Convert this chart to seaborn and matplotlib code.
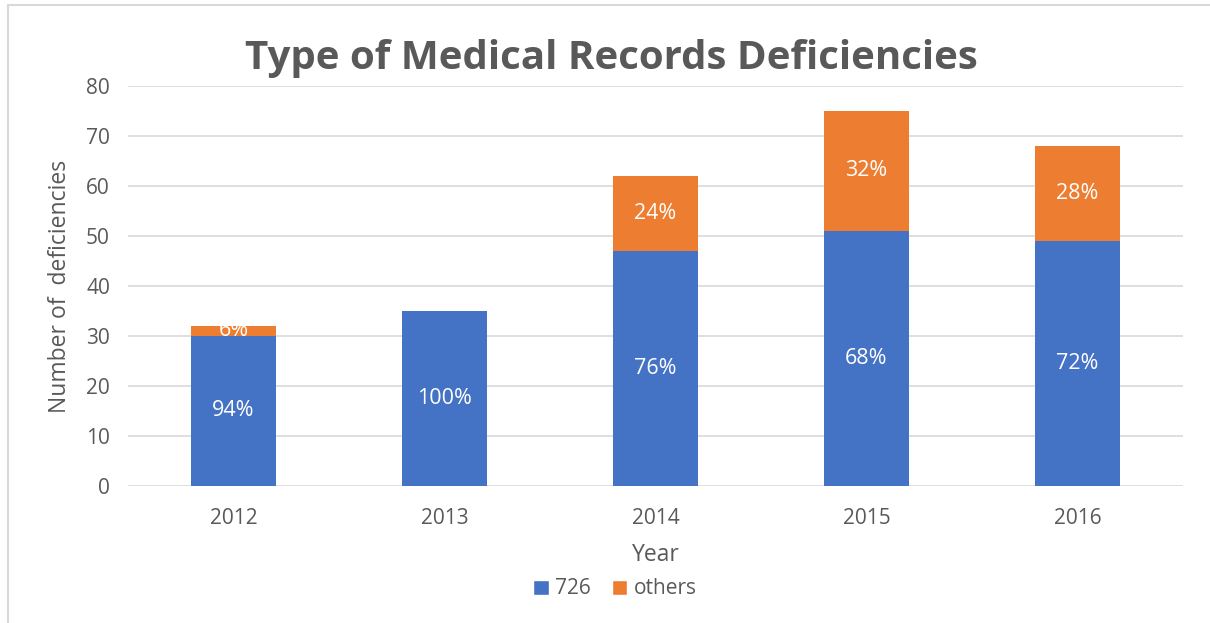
import pandas as pd
import numpy as np
import matplotlib.pyplot as plt
import seaborn as sns
from matplotlib.patches import Patch, Rectangle

# data
years = ["2012", "2013", "2014", "2015", "2016"]
count_726 = [30, 35, 47, 51, 49]
count_others = [2, 0, 15, 24, 19]
pct_726 = ["94%", "100%", "76%", "68%", "72%"]
pct_others = ["6%", "", "24%", "32%", "28%"]

blue = "#4472C4"
orange = "#ED7D31"
grey_text = "#595959"

df = pd.DataFrame({"Year": years, "726": count_726, "others": count_others})
df["total"] = df["726"] + df["others"]

sns.set_style("white")
plt.rcParams['font.family'] = ['Open Sans', 'DejaVu Sans']

fig = plt.figure(figsize=(12.1, 6.23), dpi=100)
ax = fig.add_axes([128 / 1210, 1 - 486 / 623, (1183 - 128) / 1210, (486 - 86) / 623])

# stacked bars: totals in orange, then 726 on top in blue
sns.barplot(data=df, x="Year", y="total", color=orange, width=0.4,
            saturation=1, linewidth=0, ax=ax, zorder=3)
sns.barplot(data=df, x="Year", y="726", color=blue, width=0.4,
            saturation=1, linewidth=0, ax=ax, zorder=3)

# percentage labels
for i in range(len(years)):
    ax.text(i, df["726"][i] / 2, pct_726[i], ha="center", va="center",
            color="white", fontsize=15.5, zorder=4)
    if pct_others[i]:
        ax.text(i, df["726"][i] + df["others"][i] / 2, pct_others[i],
                ha="center", va="center", color="white", fontsize=15.5, zorder=4)

ax.set_ylim(0, 80)
ax.set_yticks(np.arange(0, 81, 10))
ax.grid(axis="y", color="#d9d9d9", linewidth=1.2, zorder=0)
ax.set_axisbelow(True)
sns.despine(ax=ax, left=True, bottom=True)
ax.tick_params(axis="both", length=0, labelsize=15, colors=grey_text)
ax.tick_params(axis="x", pad=16)
ax.tick_params(axis="y", pad=13)

ax.set_xlabel("")
ax.set_ylabel("")
fig.text(60 / 1210, 1 - 286 / 623, "Number of  deficiencies", rotation=90,
         ha="center", va="center", fontsize=16.5, color=grey_text)
fig.text(656 / 1210, 1 - 555 / 623, "Year", ha="center", va="center",
         fontsize=16.5, color=grey_text)
fig.text(611 / 1210, 1 - 59 / 623, "Type of Medical Records Deficiencies",
         ha="center", va="center", fontsize=29, fontweight="bold", color=grey_text)

handles = [Patch(facecolor=blue, label="726"), Patch(facecolor=orange, label="others")]
fig.legend(handles=handles, loc="center", bbox_to_anchor=(615 / 1210, 1 - 589 / 623),
           ncol=2, frameon=False, fontsize=15, handlelength=0.75, handleheight=0.75,
           handletextpad=0.3, columnspacing=1.0, labelcolor=grey_text)

# outer frame of the chart
fig.patches.append(Rectangle((8 / 1210, -0.1), 1.2, 1 - 5 / 623 + 0.1,
                             transform=fig.transFigure, fill=False,
                             edgecolor="#d9d9d9", linewidth=1.5))

plt.savefig("out.png", dpi=100)
